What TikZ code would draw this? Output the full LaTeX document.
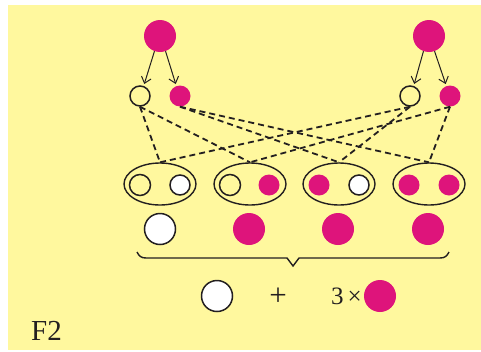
\documentclass[tikz,border=0pt]{standalone}
\usepackage{fontspec}
\setmainfont{Liberation Serif}
\usetikzlibrary{shapes.geometric,arrows.meta}
\definecolor{bgyellow}{RGB}{255,248,158}
\definecolor{mag}{RGB}{222,20,123}
\definecolor{ink}{RGB}{35,31,32}
\begin{document}
\begin{tikzpicture}[x=1pt,y=-1pt,
  mdot/.style={circle,fill=mag,draw=none,inner sep=0pt,minimum size=#1},
  ring/.style={circle,draw=ink,line width=1.5pt,inner sep=0pt,minimum size=#1},
  wdot/.style={circle,draw=ink,fill=white,line width=1.5pt,inner sep=0pt,minimum size=#1},
  oval/.style={ellipse,draw=ink,line width=1.4pt,inner sep=0pt,minimum width=72pt,minimum height=42pt},
  dline/.style={draw=ink,line width=1.8pt,dash pattern=on 6pt off 4pt},
  arr/.style={draw=ink,line width=1pt,-{Straight Barb[length=6pt,width=10pt]},shorten >=2pt},
  lbl/.style={text=ink,inner sep=0pt,font=\fontsize{25}{25}\selectfont}]
\useasboundingbox (0,0) rectangle (481,351);
\fill[bgyellow] (8,5) rectangle (481,350);
% parents
\node[mdot=32pt] (pl) at (160,36) {};
\node[mdot=32pt] (pr) at (429,36) {};
% gametes
\node[ring=20pt] (lw) at (140,96) {};
\node[mdot=21pt] (lm) at (180,96) {};
\node[ring=20pt] (rw) at (410,96) {};
\node[mdot=21pt] (rm) at (450,96) {};
\draw[arr] (pl.250) -- (lw.70);
\draw[arr] (pl.290) -- (lm.110);
\draw[arr] (pr.250) -- (rw.70);
\draw[arr] (pr.290) -- (rm.110);
% offspring ovals
\node[oval] (e1) at (160,184) {};
\node[oval] (e2) at (250,184) {};
\node[oval] (e3) at (339,184) {};
\node[oval] (e4) at (429,184) {};
\node[ring=21pt] (e1a) at (140,185) {};
\node[wdot=20pt] (e1b) at (180,185) {};
\node[ring=21pt] (e2a) at (230,185) {};
\node[mdot=21pt] (e2b) at (269,185) {};
\node[mdot=21pt] (e3a) at (319,185) {};
\node[wdot=20pt] (e3b) at (359,185) {};
\node[mdot=21pt] (e4a) at (409,185) {};
\node[mdot=21pt] (e4b) at (449,185) {};
% dashed crosses
\draw[dline] (lw.south) -- (e1.north);
\draw[dline] (lw.south) -- (e2.north);
\draw[dline] (lm.south) -- (e3.north);
\draw[dline] (lm.south) -- (e4.north);
\draw[dline] (rw.south) -- (e1.north);
\draw[dline] (rw.south) -- (e3.north);
\draw[dline] (rm.south) -- (e2.north);
\draw[dline] (rm.south) -- (e4.north);
% phenotypes
\node[wdot=31pt] (f1) at (160,229) {};
\node[mdot=32pt] (f2) at (249,229) {};
\node[mdot=32pt] (f3) at (338,229) {};
\node[mdot=32pt] (f4) at (428,229) {};
% brace
\coordinate (bl) at (137,252);
\coordinate (bt) at (293,266);
\coordinate (br) at (449,252);
\draw[ink,line width=1.4pt,line join=miter]
  (bl) .. controls (139,256) and (141,258) .. (146,258) -- (287,258) -- (bt)
  -- (299,258) -- (440,258) .. controls (445,258) and (447,256) .. (br);
% result
\node[wdot=31pt] (rw1) at (217,296) {};
\node[text=ink,inner sep=0pt,font=\fontsize{31}{31}\selectfont] (plus) at (278,297) {+};
\node[lbl,anchor=east] (three) at (362,296) {3\,×};
\node[mdot=32pt] (rm1) at (380,296) {};
% label
\node[text=ink,inner sep=0pt,anchor=base west,font=\fontsize{29}{29}\selectfont] (lab) at (31,340) {F2};
\end{tikzpicture}
\end{document}
